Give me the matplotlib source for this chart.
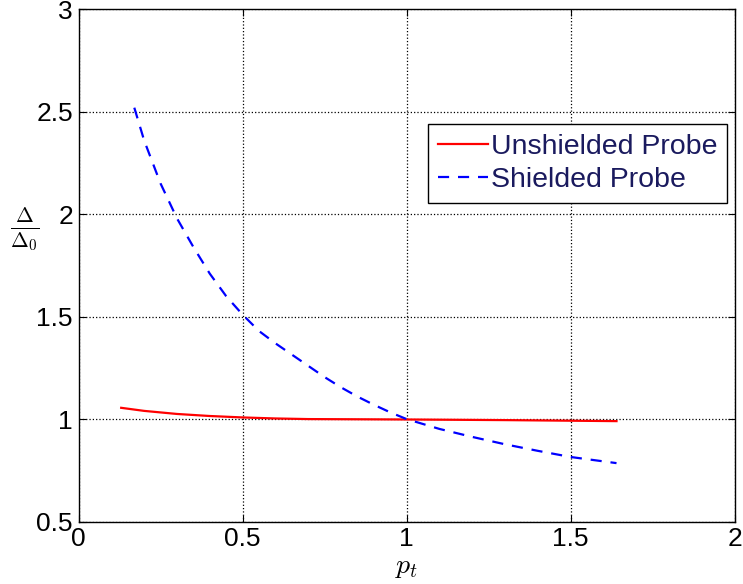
import matplotlib.pyplot as plt

plt.rcParams['font.family'] = ['Liberation Sans', 'DejaVu Sans']
plt.rcParams['mathtext.fontset'] = 'cm'

# values
pt_unshielded = [0.13, 0.2, 0.3, 0.4, 0.5, 0.6, 0.7, 1.0, 1.3, 1.64]
ratio_unshielded = [1.055, 1.04, 1.025, 1.015, 1.008, 1.003, 1.0, 0.998, 0.995, 0.99]

pt_shielded = [0.17, 0.2, 0.25, 0.3, 0.35, 0.4, 0.45, 0.5, 0.55, 0.6, 0.65, 0.7, 0.75,
               0.8, 0.85, 0.9, 0.95, 1.0, 1.1, 1.2, 1.3, 1.4, 1.5, 1.64]
ratio_shielded = [2.52, 2.36, 2.15, 1.98, 1.84, 1.71, 1.60, 1.51, 1.43, 1.37, 1.315, 1.26, 1.205,
                  1.155, 1.11, 1.07, 1.033, 1.0, 0.952, 0.913, 0.877, 0.845, 0.815, 0.785]

xticks = [0, 0.5, 1, 1.5, 2]
yticks = [0.5, 1, 1.5, 2, 2.5, 3]

fig = plt.figure(figsize=(7.43, 5.84), dpi=100)
ax = fig.add_axes([0.1057, 0.107, 0.883, 0.877])

ax.plot(pt_unshielded, ratio_unshielded, color='red', lw=1.6, label='Unshielded Probe')
ax.plot(pt_shielded, ratio_shielded, color='blue', lw=1.6, ls=(0, (5, 4)), label='Shielded Probe')

ax.set_xlim(0, 2)
ax.set_ylim(0.5, 3)
ax.set_xticks(xticks)
ax.set_xticklabels(['0', '0.5', '1', '1.5', '2'])
ax.set_yticks(yticks)
ax.set_yticklabels(['0.5', '1', '1.5', '2', '2.5', '3'])
ax.grid(True, color='black', ls=':', lw=0.9)
ax.tick_params(direction='in', top=True, right=True, labelsize=19, length=5, pad=4)
for s in ax.spines.values():
    s.set_linewidth(1.0)

ax.set_xlabel(r'$p_t$', fontsize=20, labelpad=2)
ax.set_ylabel(r'$\frac{\Delta}{\Delta_0}$', fontsize=22, rotation=0, va='center')
ax.yaxis.set_label_coords(-0.082, 0.57)

leg = ax.legend(loc='upper right', bbox_to_anchor=(0.989, 0.776), fontsize=20.5,
                frameon=True, fancybox=False, edgecolor='black', framealpha=1,
                handlelength=1.75, handletextpad=0.1, borderpad=0.35, labelspacing=0.25,
                borderaxespad=0)
leg.get_frame().set_linewidth(1.0)
for t in leg.get_texts():
    t.set_color('#1a1a5e')

fig.savefig('out.png', dpi=100)
